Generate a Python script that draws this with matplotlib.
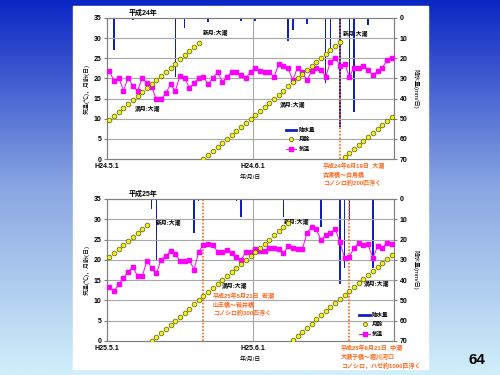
import matplotlib
matplotlib.use('Agg')
import matplotlib.pyplot as plt
import numpy as np
from matplotlib.colors import LinearSegmentedColormap
from matplotlib.lines import Line2D
from matplotlib.patches import Rectangle

plt.rcParams['font.family'] = ['Liberation Sans', 'Noto Sans CJK JP', 'DejaVu Sans']
plt.rcParams['font.weight'] = 'bold'

# one value per day, May 1 - June 30
days = list(range(61))

# H24 (2012)
moon_h24 = [9.7, 10.7, 11.7, 12.7, 13.7, 14.7, 15.7, 16.7, 17.7, 18.7,
            19.7, 20.7, 21.7, 22.7, 23.7, 24.7, 25.7, 26.7, 27.7, 28.7,
            0.0, 1.0, 2.0, 3.0, 4.0, 5.0, 6.0, 7.0, 8.0, 9.0,
            10.0, 11.0, 12.0, 13.0, 14.0, 15.0, 16.0, 17.0, 18.0, 19.0,
            20.0, 21.0, 22.0, 23.0, 24.0, 25.0, 26.0, 27.0, 28.0, 29.0,
            0.4, 1.4, 2.4, 3.4, 4.4, 5.4, 6.4, 7.4, 8.4, 9.4,
            10.4]
temp_h24 = [21.9, 19.3, 20.2, 17.0, 20.2, 18.1, 16.9, 20.2, 18.8, 17.9,
            14.8, 14.8, 16.3, 18.6, 16.9, 20.6, 20.2, 17.7, 18.8, 20.2,
            20.4, 18.5, 20.2, 21.5, 19.2, 20.3, 21.7, 21.7, 20.8, 20.2,
            21.5, 22.7, 21.8, 21.7, 21.7, 20.3, 23.6, 23.2, 22.5, 19.6,
            22.7, 21.5, 19.6, 21.8, 22.5, 22.2, 20.4, 24.2, 25.1, 23.2,
            23.7, 20.4, 22.7, 22.7, 23.2, 22.1, 20.8, 21.8, 22.5, 24.6,
            25.0]
rain_h24 = [0, 16, 0, 0, 0, 1, 0, 0, 0, 0,
            0, 0, 0, 0, 29.5, 0, 5, 0, 0, 0,
            0, 2, 0, 0, 0, 0, 0, 0, 1.5, 0,
            0, 1.5, 0, 0, 0, 0, 0, 0, 11.5, 6,
            0, 0, 3, 0, 0, 0, 32.5, 15, 0, 54,
            0, 29, 46.5, 0, 0, 3.5, 0, 0, 0, 0,
            0]

# H25 (2013)
moon_h25 = [20.6, 21.6, 22.6, 23.6, 24.6, 25.6, 26.6, 27.6, 28.6, 0.0,
            1.0, 2.0, 3.0, 4.0, 5.0, 6.0, 7.0, 8.0, 9.0, 10.0,
            11.0, 12.0, 13.0, 14.0, 15.0, 16.0, 17.0, 18.0, 19.0, 20.0,
            21.0, 22.0, 23.0, 24.0, 25.0, 26.0, 27.0, 28.0, 29.0, 0.3,
            1.3, 2.3, 3.3, 4.3, 5.3, 6.3, 7.3, 8.3, 9.3, 10.3,
            11.3, 12.3, 13.3, 14.3, 15.3, 16.3, 17.3, 18.3, 19.3, 20.3,
            21.3]
temp_h25 = [13.3, 12.2, 14.0, 15.5, 17.1, 18.2, 16.0, 16.0, 19.8, 18.0,
            16.7, 20.0, 21.0, 22.1, 21.5, 19.7, 19.8, 20.0, 17.6, 22.0,
            23.7, 23.8, 23.7, 22.0, 22.0, 22.4, 21.8, 20.8, 19.9, 22.0,
            22.0, 22.6, 22.2, 22.3, 23.0, 22.8, 22.6, 21.6, 23.3, 23.0,
            22.6, 22.6, 26.5, 28.2, 27.5, 24.8, 26.2, 26.5, 27.7, 24.3,
            20.5, 20.7, 22.9, 24.2, 23.7, 23.8, 20.5, 23.3, 23.0, 24.2,
            23.9]
rain_h25 = [0, 0, 0, 0, 0, 0, 0, 0, 0, 5,
            30, 0, 0, 0, 0, 0, 0, 0, 17, 1,
            0, 0, 0, 0, 0, 0, 0, 1, 8.7, 0,
            0, 0, 0, 0, 0, 0, 0, 8.7, 0, 0,
            0, 0.6, 0, 0, 0.6, 14, 0.6, 0, 0, 42,
            34, 10.5, 0, 0, 0.6, 0, 34, 0, 0, 0,
            0]

ticks_h24 = ['H24.5.1', 'H24.6.1']
ticks_h25 = ['H25.5.1', 'H25.6.1']

RAIN_C = '#1020c0'
TEMP_C = '#ff00ff'
MOON_C = '#f2f020'
NOTE_C = '#ff6418'
GRID_C = '#a8a8a8'

fig = plt.figure(figsize=(5, 3.75), dpi=100)

# slide background: blue gradient with a white panel
bg = fig.add_axes([0, 0, 1, 1])
cmap = LinearSegmentedColormap.from_list('bg', ['#0a26c4', '#8aa6e2', '#d0f0fb'])
bg.imshow(np.linspace(0, 1, 256)[:, None], aspect='auto', cmap=cmap,
          extent=[0, 1, 0, 1], origin='upper')
bg.add_patch(Rectangle((73 / 500, 1 - 369 / 375), 355 / 500, 363 / 375,
                       color='white', zorder=2))
bg.set_xlim(0, 1)
bg.set_ylim(0, 1)
bg.axis('off')


def panel(rect, temp, moon, rain, ticklabels, events):
    ax = fig.add_axes(rect)
    ax2 = ax.twinx()
    ax.set_zorder(ax2.get_zorder() + 1)
    ax.patch.set_visible(False)

    # precipitation hangs from the top (inverted right axis)
    ax2.bar(days, rain, width=0.3, color=RAIN_C)
    ax2.set_ylim(70, 0)
    ax2.set_yticks(range(0, 71, 10))

    for y in range(5, 35, 5):
        ax.axhline(y, color=GRID_C, lw=0.8, zorder=0)
    ax.axvline(30.5, color=GRID_C, lw=0.8, zorder=0)
    for d in events:
        ax.axvline(d, color=NOTE_C, lw=1.2, ls=(0, (1, 1)), zorder=1)

    ax.plot(days, temp, color=TEMP_C, lw=0.7, marker='s', ms=2.8, zorder=3)
    ax.plot(days, moon, ls='none', marker='o', ms=3.4, mfc=MOON_C,
            mec='#5a5a00', mew=0.5, zorder=4)

    ax.set_xlim(-0.5, 60.5)
    ax.set_ylim(0, 35)
    ax.set_yticks(range(0, 36, 5))
    ax.set_xticks([-0.5, 30.5])
    ax.set_xticklabels(ticklabels)

    for a in (ax, ax2):
        for s in a.spines.values():
            s.set_color('#808080')
            s.set_linewidth(0.8)
        a.tick_params(axis='y', length=2, pad=2, labelsize=5, color='#808080')
    ax.tick_params(axis='x', length=0, pad=3, labelsize=5)

    ax.set_ylabel('気温(℃)，月齢(日)', fontsize=4.3, labelpad=3)
    ax2.set_ylabel('降水量(mm/日)', fontsize=4.3, rotation=270, labelpad=8)
    ax.set_xlabel('年/月/日', fontsize=4.3, labelpad=3)
    return ax


def legend(ax, anchor):
    handles = [Line2D([], [], color=RAIN_C, lw=2),
               Line2D([], [], ls='none', marker='o', ms=3, mfc=MOON_C,
                      mec='#5a5a00', mew=0.5),
               Line2D([], [], color=TEMP_C, lw=0.7, marker='s', ms=2.5)]
    ax.legend(handles, ['降水量', '月齢', '気温'], loc='upper left',
              bbox_to_anchor=anchor, bbox_transform=fig.transFigure,
              frameon=False, fontsize=4, handlelength=1.9, borderpad=0,
              labelspacing=0.8, handletextpad=0.4)


def label(ax, d, v, s, size=4.2):
    ax.text(d, v, s, fontsize=size, ha='center', va='center', clip_on=False)


def note(ax, d, v, s):
    ax.text(d, v, s, fontsize=4.3, color=NOTE_C, ha='left', va='top',
            linespacing=1.45, clip_on=False)


# --- H24 ---
top = panel([0.214, 0.576, 0.574, 0.376], temp_h24, moon_h24, rain_h24,
            ticks_h24, [49])
label(top, 7.2, 36.3, '平成24年', size=5)
label(top, 22.6, 31.4, '新月:大潮')
label(top, 8.2, 12.4, '満月:大潮')
label(top, 38.9, 13.4, '満月:大潮')
label(top, 52.4, 31.0, '新月:大潮')
note(top, 45.4, -0.9, '平成24年6月19日_大潮\n古渡橋～白鳥橋\nコノシロ約200匹浮く')
legend(top, (0.566, 0.668))

# --- H25 ---
bot = panel([0.214, 0.0907, 0.574, 0.3787], temp_h25, moon_h25, rain_h25,
            ticks_h25, [20, 51])
label(bot, 7.2, 36.2, '平成25年', size=5)
label(bot, 12.5, 29.2, '新月:大潮')
label(bot, 26.7, 13.6, '満月:大潮')
label(bot, 39.9, 29.3, '新月:大潮')
label(bot, 56.8, 14.0, '満月:大潮')
note(bot, 22.0, 11.9, '平成25年5月21日_若潮\n山王橋～岩井橋\nコノシロ約300匹浮く')
note(bot, 49.2, -0.9, '平成25年6月21日_中潮\n大瀬子橋～堀川河口\nコノシロ，ハゼ約1000匹浮く')
legend(bot, (0.713, 0.174))

fig.text(477 / 500, 1 - 360 / 375, '64', fontsize=11, weight='bold',
         ha='center', va='center')

fig.savefig('out.png', dpi=100)
